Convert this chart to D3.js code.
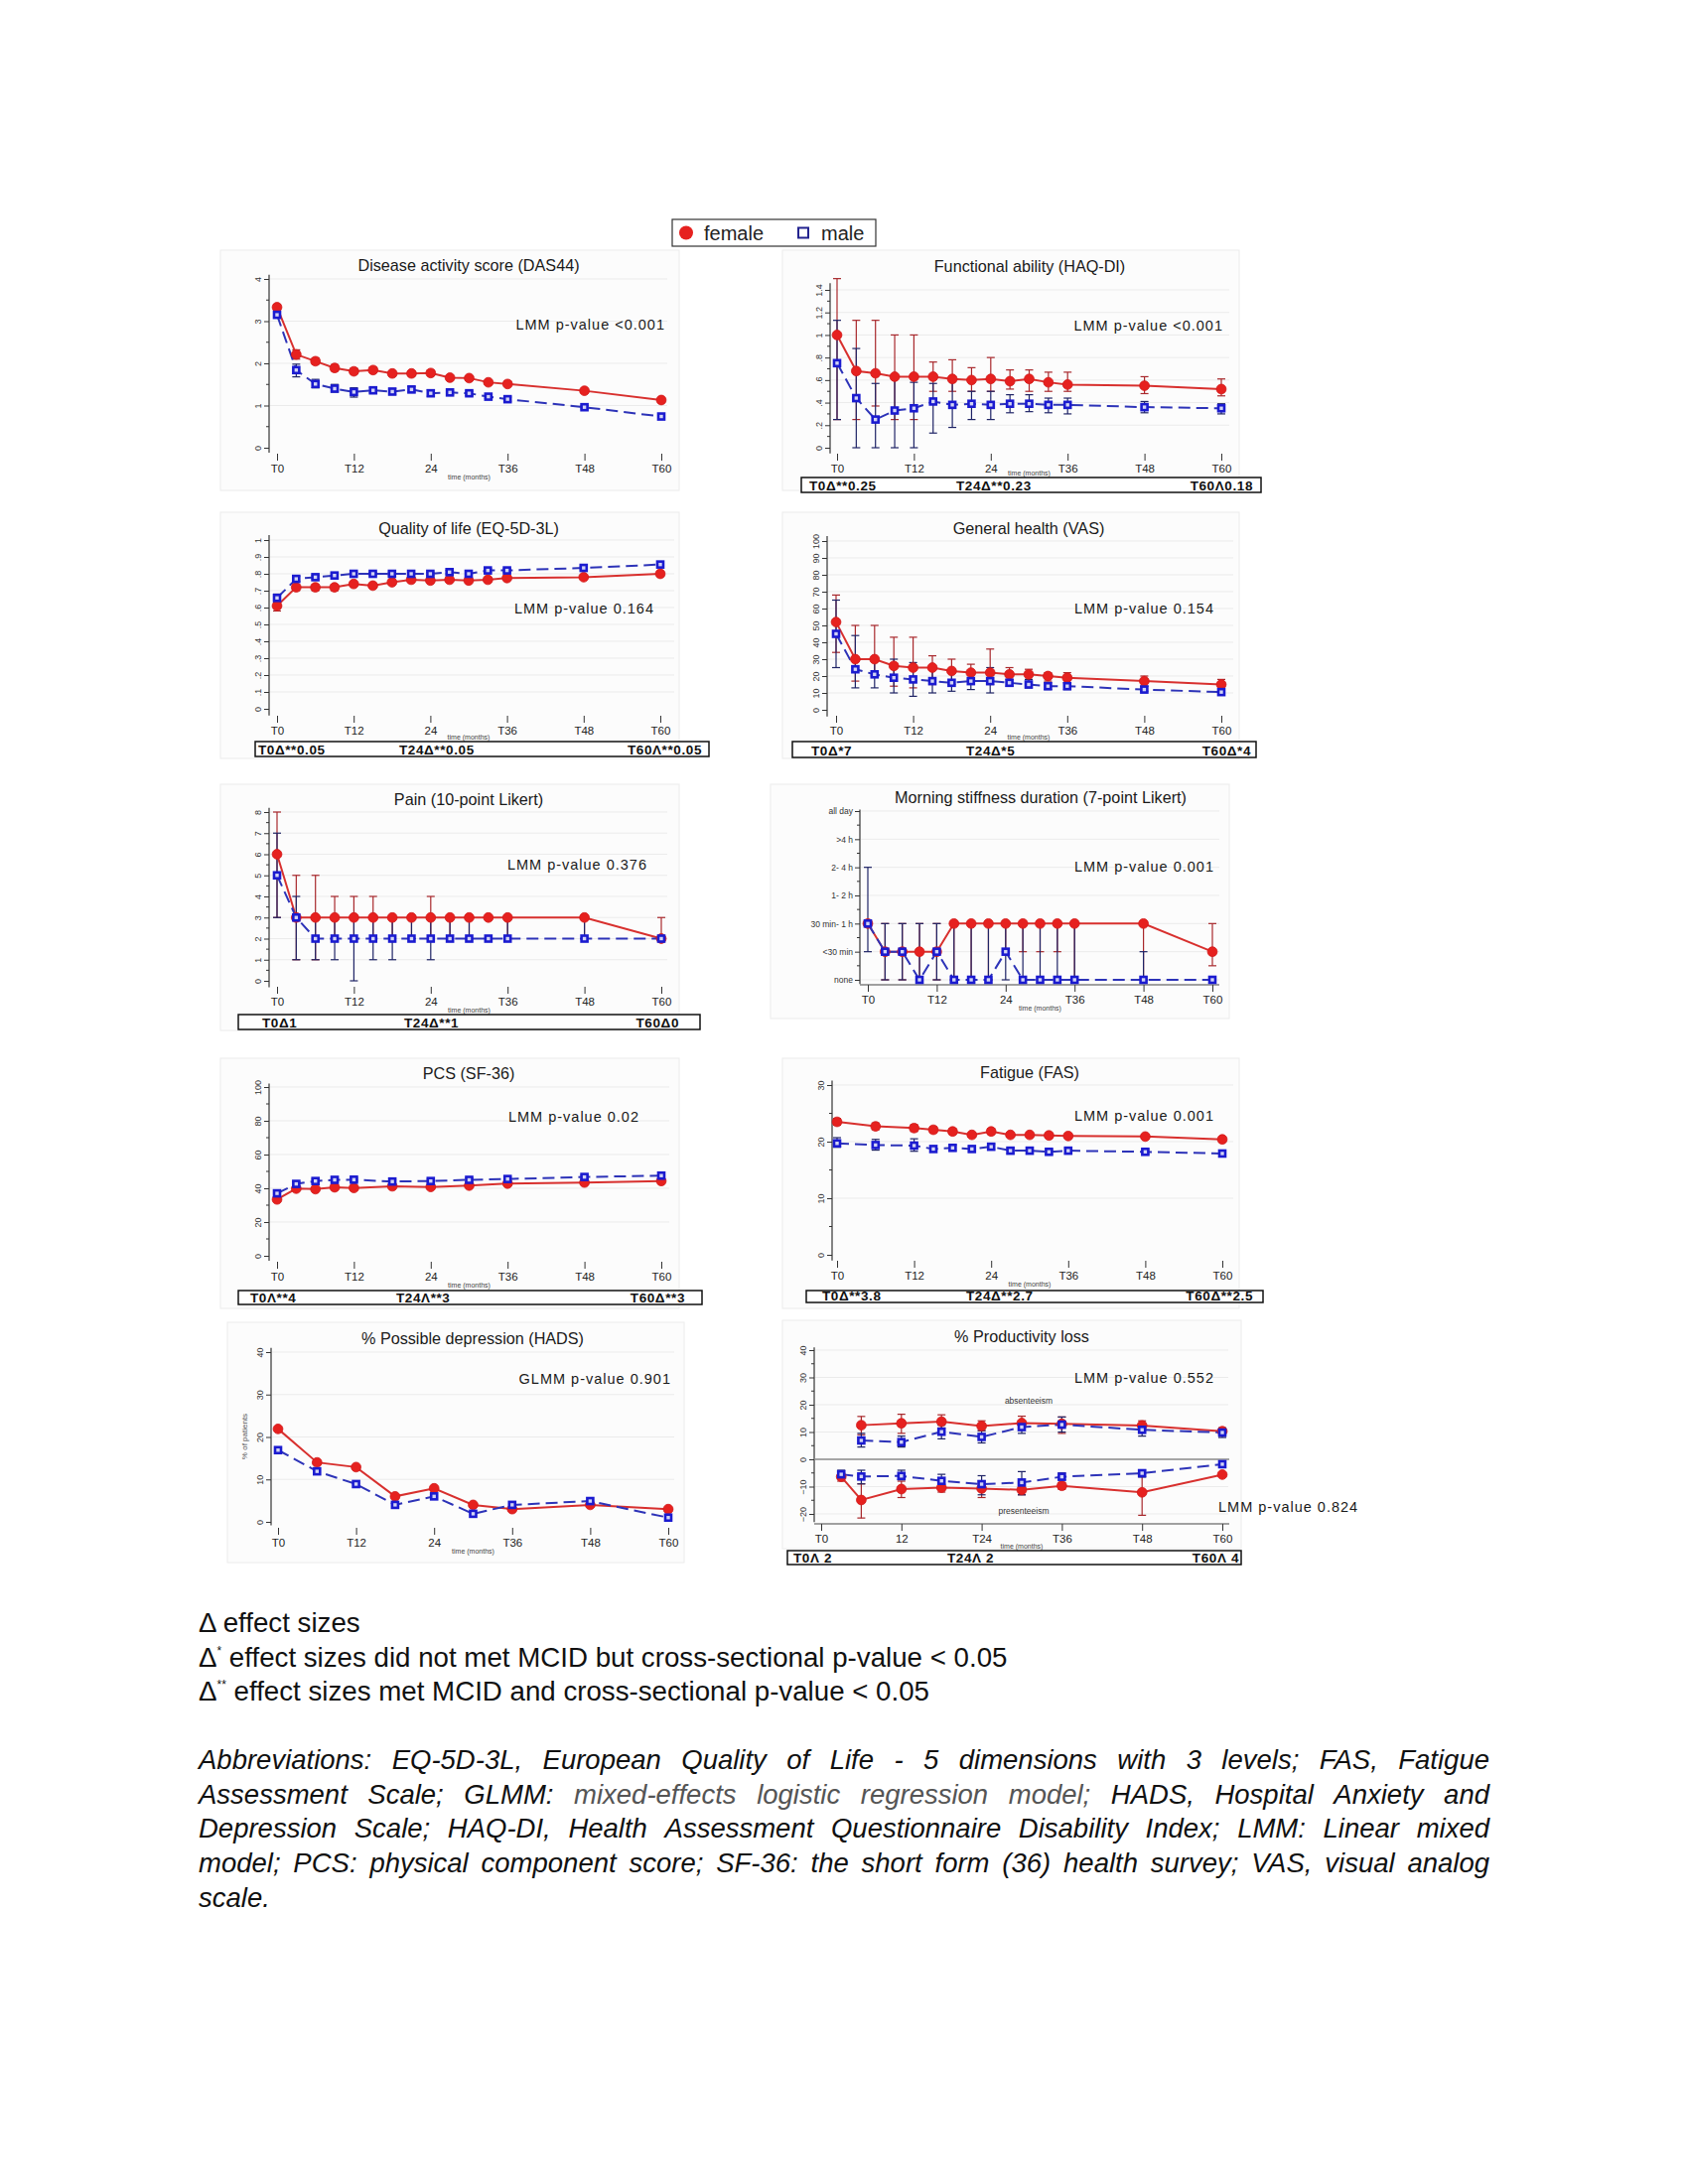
<!DOCTYPE html>
<html><head><meta charset="utf-8">
<script src="https://cdn.jsdelivr.net/npm/d3@7"></script>
<style>
body{margin:0;background:#fff;}
svg{display:block;}
text{font-family:"Liberation Sans", Arial, Helvetica, sans-serif;}
</style>
</head><body>
<svg id="chart" width="1700" height="2200"></svg>
<script>
// ---------------- DATA ----------------
const m15 = [0,3,6,9,12,15,18,21,24,27,30,33,36,48,60];
const m11 = [0,3,6,9,12,18,24,30,36,48,60];
const m13 = [0,6,12,15,18,21,24,27,30,33,36,48,60];
const m9 = [0,6,12,18,24,30,36,48,60];
const absMonths = [6,12,18,24,30,36,48,60];
const presMonths = [3,6,12,18,24,30,36,48,60];
const xTickMonths = [0,12,24,36,48,60];
const xTickLabels = ["T0","T12","24","T36","T48","T60"];
const xTickLabelsProd = ["T0","12","T24","T36","T48","T60"];

const dasF   = [3.33,2.21,2.05,1.89,1.81,1.84,1.76,1.76,1.77,1.66,1.65,1.55,1.51,1.35,1.13];
const dasFLo = [3.25,2.10,1.98,1.82,1.75,1.78,1.70,1.70,1.71,1.62,1.60,1.51,1.47,1.31,1.09];
const dasFHi = [3.40,2.32,2.13,1.97,1.88,1.90,1.81,1.81,1.83,1.71,1.70,1.60,1.55,1.39,1.16];
const dasM   = [3.15,1.84,1.51,1.40,1.32,1.36,1.33,1.38,1.29,1.31,1.29,1.21,1.15,0.96,0.74];
const dasMLo = [3.08,1.68,1.42,1.32,1.20,1.30,1.26,1.32,1.22,1.26,1.24,1.17,1.10,0.92,0.70];
const dasMHi = [3.22,1.98,1.62,1.50,1.42,1.42,1.40,1.45,1.37,1.35,1.34,1.26,1.20,1.00,0.78];

const haqF   = [1.00,0.68,0.66,0.63,0.63,0.63,0.61,0.60,0.61,0.59,0.61,0.58,0.56,0.55,0.52];
const haqFLo = [0.25,0.25,0.37,0.25,0.25,0.50,0.50,0.50,0.50,0.52,0.50,0.50,0.50,0.48,0.46];
const haqFHi = [1.50,1.13,1.13,1.00,1.00,0.76,0.78,0.71,0.80,0.69,0.69,0.67,0.67,0.63,0.61];
const haqM   = [0.75,0.44,0.25,0.33,0.35,0.41,0.38,0.39,0.38,0.39,0.39,0.38,0.38,0.36,0.35];
const haqMLo = [0.25,0.00,0.00,0.00,0.00,0.13,0.18,0.25,0.25,0.31,0.32,0.31,0.30,0.31,0.30];
const haqMHi = [1.13,0.88,0.57,0.63,0.58,0.57,0.63,0.50,0.50,0.47,0.47,0.44,0.44,0.41,0.39];

const eqF   = [0.61,0.72,0.72,0.72,0.74,0.73,0.75,0.765,0.76,0.765,0.76,0.765,0.775,0.78,0.80];
const eqFLo = [0.58,0.70,0.70,0.70,0.73,0.72,0.74,0.755,0.75,0.755,0.75,0.755,0.765,0.77,0.79];
const eqFHi = [0.63,0.735,0.735,0.735,0.75,0.745,0.76,0.775,0.77,0.775,0.77,0.775,0.785,0.79,0.81];
const eqM   = [0.657,0.77,0.78,0.79,0.80,0.80,0.80,0.80,0.80,0.81,0.80,0.82,0.82,0.835,0.855];
const eqMLo = [0.63,0.755,0.77,0.78,0.79,0.79,0.79,0.79,0.79,0.80,0.79,0.81,0.81,0.825,0.845];
const eqMHi = [0.68,0.785,0.79,0.80,0.81,0.81,0.81,0.81,0.81,0.82,0.81,0.83,0.83,0.845,0.865];

const vasF   = [52,30,30,26,25,25,23,22,22,21,21,20,19,17,15];
const vasFLo = [34,17,20,14,13,15,15,18,15,18,18,17,16,14,12];
const vasFHi = [68,50,50,43,43,32,30,27,36,25,24,22,22,20,18];
const vasM   = [45,24,21,19,18,17,16,17,17,16,15,14,14,12,10.5];
const vasMLo = [25,13,13,10,8,10,11,12,10,14,13,12,12,11,9];
const vasMHi = [65,44,30,30,28,25,23,22,25,20,18,16,16,14,12];

const painF   = [6,3,3,3,3,3,3,3,3,3,3,3,3,3,2];
const painFLo = [3,1,1,2,2,2,2,2,2,2,2,3,2,2,2];
const painFHi = [8,5,5,4,4,4,3,3,4,3,3,3,3,3,3];
const painM   = [5,3,2,2,2,2,2,2,2,2,2,2,2,2,2];
const painMLo = [3,1,1,1,0,1,1,2,1,2,2,2,2,2,2];
const painMHi = [7,4,3,3,3,3,3,3,3,3,3,2,3,3,2];

const stiffCats = ["none","<30 min","30 min- 1 h","1- 2 h","2- 4 h",">4 h","all day"];
const stiffF   = [2,1,1,1,1,2,2,2,2,2,2,2,2,2,1];
const stiffFLo = [2,0,0,0,0,0,0,0,1,1,1,1,0,0,0.5];
const stiffFHi = [2,2,2,2,2,2,2,2,2,2,2,2,2,2,2];
const stiffM   = [2,1,1,0,1,0,0,0,1,0,0,0,0,0,0];
const stiffMLo = [1,0,0,0,0,0,0,0,0,0,0,0,0,0,0];
const stiffMHi = [4,2,2,2,2,2,2,2,2,2,2,2,2,1,0];

const pcsF   = [33.4,39.8,39.5,40.6,40.2,41.2,40.8,41.6,42.8,43.4,44.3];
const pcsFLo = [32.2,38.8,38.5,39.6,39.2,40.2,39.8,40.6,41.8,42.4,43.3];
const pcsFHi = [34.6,40.8,40.5,41.6,41.2,42.2,41.8,42.6,43.8,44.4,45.3];
const pcsM   = [37.0,42.6,44.3,45.0,45.1,44.0,44.3,45.0,45.5,46.7,47.5];
const pcsMLo = [35.6,41.4,43.2,43.9,44.0,42.9,43.2,43.9,44.4,45.6,46.4];
const pcsMHi = [38.4,43.8,45.4,46.1,46.2,45.1,45.4,46.1,46.6,47.8,48.6];

const fasF   = [23.5,22.7,22.4,22.1,21.8,21.2,21.8,21.2,21.2,21.1,21.0,20.9,20.4];
const fasFLo = [22.9,22.1,21.8,21.6,21.3,20.8,21.3,20.8,20.8,20.7,20.6,20.5,20.0];
const fasFHi = [24.1,23.3,23.0,22.6,22.3,21.6,22.3,21.6,21.6,21.5,21.4,21.3,20.8];
const fasM   = [19.7,19.4,19.3,18.7,18.9,18.7,19.1,18.4,18.4,18.2,18.4,18.2,17.9];
const fasMLo = [19.0,18.5,18.3,18.2,18.4,18.2,18.6,17.9,17.9,17.8,17.9,17.8,17.5];
const fasMHi = [20.7,20.4,20.5,19.2,19.4,19.2,19.6,18.9,18.9,18.6,18.9,18.6,18.3];

const depF = [21.9,14.0,12.9,6.0,7.9,4.0,3.0,4.0,3.0];
const depM = [16.9,11.9,8.9,4.0,6.0,1.9,4.0,4.9,1.0];

const absF   = [12.5,13.2,13.8,12.2,13.3,13.0,12.4,10.3];
const absFLo = [9.0,9.5,11.5,10.5,11.5,9.5,10.5,8.5];
const absFHi = [15.7,16.5,16.3,14.1,15.8,15.5,14.1,11.5];
const absM   = [6.9,6.3,10.1,8.2,11.8,12.7,10.8,9.8];
const absMLo = [4.5,4.5,7.5,6.0,9.5,10.0,8.5,8.0];
const absMHi = [9.5,8.5,12.5,10.5,13.5,15.5,12.5,11.5];
const presF   = [-6.4,-14.9,-10.9,-10.4,-10.7,-11.2,-9.7,-12.1,-5.6];
const presFLo = [-8,-21.5,-14,-12,-14,-13,-11,-20.5,-6];
const presFHi = [-5,-9,-8,-9,-8,-9,-8.5,-5,-5];
const presM   = [-5.5,-6.3,-6.1,-7.9,-9.1,-8.5,-6.4,-5.1,-1.8];
const presMLo = [-7,-9,-7.5,-10,-13,-13,-7.5,-6.5,-2.5];
const presMHi = [-4,-4,-4,-5.5,-6,-4.5,-5,-4,-1.5];

const deltaHAQ  = ["T0Δ**0.25","T24Δ**0.23","T60Λ0.18"];
const deltaEQ   = ["T0Δ**0.05","T24Δ**0.05","T60Λ**0.05"];
const deltaVAS  = ["T0Δ*7","T24Δ*5","T60Δ*4"];
const deltaPain = ["T0Δ1","T24Δ**1","T60Δ0"];
const deltaPCS  = ["T0Λ**4","T24Λ**3","T60Δ**3"];
const deltaFAS  = ["T0Δ**3.8","T24Δ**2.7","T60Δ**2.5"];
const deltaProd = ["T0Λ 2","T24Λ 2","T60Λ 4"];

// ---------------- STYLE ----------------
const RED = "#e6211f", RED_LINE = "#d8302e", RED_ERR = "#a8282c";
const BLUE = "#1b1bd0", BLUE_LINE = "#2d33b8", BLUE_ERR = "#1f2466";

const svg = d3.select("#chart");

function series(xs, ys, lo, hi, sex){ return {xs, ys, lo, hi, sex}; }

function drawPanel(c){
  const g = svg.append("g");
  g.append("rect").attr("x",c.bg[0]).attr("y",c.bg[1])
    .attr("width",c.bg[2]-c.bg[0]).attr("height",c.bg[3]-c.bg[1])
    .attr("fill","#fcfcfc").attr("stroke","#ececec").attr("stroke-width",1);
  const x = d3.scaleLinear().domain([0,60]).range([c.xL,c.xR]);
  const y = d3.scaleLinear().domain(c.yDom).range([c.yB,c.yT]);

  // grid
  g.append("g").selectAll("line").data(c.grid).join("line")
    .attr("x1",c.axisX+1).attr("x2",c.gridR)
    .attr("y1",d=>y(d)).attr("y2",d=>y(d))
    .attr("stroke","#ebebeb").attr("stroke-width",1);

  // y axis
  const ya = d3.axisLeft(y).tickValues(c.yTicks).tickSize(5).tickSizeOuter(0)
    .tickFormat(c.yFmt);
  const yg = g.append("g").attr("transform",`translate(${c.axisX},0)`).call(ya);
  yg.select(".domain").remove();
  yg.selectAll("line").attr("stroke","#333");
  if (c.cats){
    yg.selectAll("text").attr("font-size",8.5).attr("fill","#333").attr("x",-7)
      .attr("font-family","Liberation Sans, Arial, sans-serif");
  } else {
    yg.selectAll("text").attr("transform","rotate(-90)").attr("x",0).attr("y",-8)
      .attr("dy",0).attr("text-anchor","middle").attr("font-size",9).attr("fill","#333")
      .attr("font-family","Liberation Sans, Arial, sans-serif");
  }
  g.append("line").attr("x1",c.axisX).attr("x2",c.axisX)
    .attr("y1",y(c.yExt[0])).attr("y2",y(c.yExt[1])).attr("stroke","#333").attr("stroke-width",1.2);
  if (c.minor){
    g.append("g").selectAll("line").data(c.minor).join("line")
      .attr("x1",c.axisX-3).attr("x2",c.axisX).attr("y1",d=>y(d)).attr("y2",d=>y(d))
      .attr("stroke","#333");
  }
  if (c.zeroLine){
    g.append("line").attr("x1",c.axisX).attr("x2",c.zeroLine).attr("y1",y(0)).attr("y2",y(0))
      .attr("stroke","#8a8a8a").attr("stroke-width",1.6);
  }

  // x axis
  const labels = c.xLabels || xTickLabels;
  const xa = d3.axisBottom(x).tickValues(xTickMonths).tickSize(7).tickSizeOuter(0)
    .tickFormat((d,i)=>labels[i]);
  const xg = g.append("g").attr("transform",`translate(0,${c.xAxisY})`).call(xa);
  xg.select(".domain").remove();
  xg.selectAll("line").attr("stroke","#333");
  xg.selectAll("text").attr("font-size",11.5).attr("fill","#222").attr("y",11).attr("dy","0.71em")
    .attr("font-family","Liberation Sans, Arial, sans-serif");
  if (c.xLine){
    g.append("line").attr("x1",c.axisX).attr("x2",c.xLine).attr("y1",c.xAxisY).attr("y2",c.xAxisY)
      .attr("stroke","#444").attr("stroke-width",1);
  }
  const tmY = c.delta ? Math.min(c.xAxisY+26, c.delta.box[1]-2) : c.xAxisY+26;
  g.append("text").attr("x",(c.xL+c.xR)/2).attr("y",tmY).attr("text-anchor","middle")
    .attr("font-size",7).attr("fill","#444").text("time (months)");

  // title
  g.append("text").attr("x",c.titleX).attr("y",c.titleY).attr("text-anchor","middle")
    .attr("font-size",16.2).attr("fill","#1a1a1a").text(c.title);
  // p texts
  (c.pTexts||[]).forEach(p=>{
    g.append("text").attr("x",p[1]).attr("y",p[2]).attr("text-anchor",p[3]||"end")
      .attr("font-size",14.5).attr("letter-spacing",1).attr("fill","#1a1a1a").text(p[0]);
  });
  (c.notes||[]).forEach(p=>{
    g.append("text").attr("x",p[1]).attr("y",p[2]).attr("text-anchor","middle")
      .attr("font-size",8.5).attr("fill","#333").text(p[0]);
  });
  if (c.ylab){
    g.append("text").attr("transform",`translate(${c.ylab[1]},${c.ylab[2]}) rotate(-90)`)
      .attr("text-anchor","middle").attr("font-size",8).attr("fill","#555").text(c.ylab[0]);
  }

  // error bars
  c.series.forEach(s=>{
    if (!s.lo) return;
    const col = s.sex==="f" ? RED_ERR : BLUE_ERR;
    const eg = g.append("g").attr("stroke",col).attr("stroke-width",1.2);
    s.xs.forEach((m,i)=>{
      if (s.lo[i]===s.hi[i]) return;
      const xx = x(m);
      eg.append("line").attr("x1",xx).attr("x2",xx).attr("y1",y(s.lo[i])).attr("y2",y(s.hi[i]));
      eg.append("line").attr("x1",xx-4).attr("x2",xx+4).attr("y1",y(s.lo[i])).attr("y2",y(s.lo[i]));
      eg.append("line").attr("x1",xx-4).attr("x2",xx+4).attr("y1",y(s.hi[i])).attr("y2",y(s.hi[i]));
    });
  });
  // lines + markers, female first then male
  ["f","m"].forEach(sex=>{
    c.series.filter(s=>s.sex===sex).forEach(s=>{
      const pts = s.xs.map((m,i)=>[m,s.ys[i]]);
      const line = d3.line().x(d=>x(d[0])).y(d=>y(d[1]));
      g.append("path").attr("d",line(pts)).attr("fill","none")
        .attr("stroke", sex==="f"?RED_LINE:BLUE_LINE).attr("stroke-width",2)
        .attr("stroke-dasharray", sex==="f"?null:"12,6");
    });
  });
  ["f","m"].forEach(sex=>{
    c.series.filter(s=>s.sex===sex).forEach(s=>{
      const pts = s.xs.map((m,i)=>[m,s.ys[i]]);
      if (sex==="f"){
        g.append("g").selectAll("circle").data(pts).join("circle")
          .attr("cx",d=>x(d[0])).attr("cy",d=>y(d[1])).attr("r",4.9)
          .attr("fill",RED).attr("stroke","#d21a1a").attr("stroke-width",0.8);
      } else {
        g.append("g").selectAll("rect").data(pts).join("rect")
          .attr("x",d=>x(d[0])-3).attr("y",d=>y(d[1])-3).attr("width",6).attr("height",6)
          .attr("fill","#d2d4f4").attr("stroke",BLUE).attr("stroke-width",2.6);
      }
    });
  });

  // delta box
  if (c.delta){
    const d = c.delta;
    g.append("rect").attr("x",d.box[0]).attr("y",d.box[1]).attr("width",d.box[2]-d.box[0])
      .attr("height",d.box[3]-d.box[1]).attr("fill","#fff").attr("stroke","#111").attr("stroke-width",1.5);
    d.texts.forEach((t,i)=>{
      g.append("text").attr("x",d.pos[i]).attr("y",d.box[3]-2.5)
        .attr("text-anchor", i===2?"end":"start")
        .attr("font-size",13.5).attr("font-weight","bold").attr("letter-spacing",0.6)
        .attr("fill","#111").text(t);
    });
  }
}

const r = (a,b,s)=>d3.range(a,b+1e-9,s).map(v=>+v.toFixed(4));
const fmtDec = d => d===0 ? "0" : (d===1 ? "1" : (Number.isInteger(d)? String(d) : String(+d.toFixed(1)).replace(/^0\./,".")));

// 1 DAS44
drawPanel({bg:[222,252,684,494], xL:279, xR:666, yDom:[0,4], yB:451, yT:281, axisX:271,
  yTicks:[0,1,2,3,4], yFmt:d3.format("d"), grid:[1,2,3,4], gridR:672, yExt:[-0.12,4.1],
  minor:[0.5,1.5,2.5,3.5], xAxisY:457,
  title:"Disease activity score (DAS44)", titleX:472, titleY:273,
  pTexts:[["LMM p-value <0.001",670,332]],
  series:[series(m15,dasF,dasFLo,dasFHi,"f"), series(m15,dasM,dasMLo,dasMHi,"m")]});

// 2 HAQ-DI
drawPanel({bg:[788,252,1248,494], xL:843, xR:1230, yDom:[0,1.4], yB:451, yT:292, axisX:836,
  yTicks:r(0,1.4,0.2), yFmt:fmtDec, grid:r(0.2,1.4,0.2), gridR:1238, yExt:[-0.05,1.46],
  minor:r(0.1,1.3,0.2), xAxisY:457,
  title:"Functional ability (HAQ-DI)", titleX:1037, titleY:274,
  pTexts:[["LMM p-value <0.001",1232,333]],
  series:[series(m15,haqF,haqFLo,haqFHi,"f"), series(m15,haqM,haqMLo,haqMHi,"m")],
  delta:{box:[807,481,1270,496], texts:deltaHAQ, pos:[815,963,1262]}});

// 3 EQ-5D
drawPanel({bg:[222,516,684,764], xL:279, xR:665, yDom:[0,1], yB:714, yT:544, axisX:271,
  yTicks:r(0,1,0.1), yFmt:fmtDec, grid:r(0.1,1,0.1), gridR:679, yExt:[-0.04,1.03],
  xAxisY:721,
  title:"Quality of life (EQ-5D-3L)", titleX:472, titleY:538,
  pTexts:[["LMM p-value 0.164",659,618]],
  series:[series(m15,eqF,eqFLo,eqFHi,"f"), series(m15,eqM,eqMLo,eqMHi,"m")],
  delta:{box:[257,747,714,762], texts:deltaEQ, pos:[260,402,707]}});

// 4 VAS
drawPanel({bg:[788,516,1248,764], xL:842, xR:1230, yDom:[0,100], yB:715, yT:545, axisX:833,
  yTicks:r(0,100,10), yFmt:d3.format("d"), grid:r(10,100,10), gridR:1242, yExt:[-4,103],
  xAxisY:721,
  title:"General health (VAS)", titleX:1036, titleY:538,
  pTexts:[["LMM p-value 0.154",1223,618]],
  series:[series(m15,vasF,vasFLo,vasFHi,"f"), series(m15,vasM,vasMLo,vasMHi,"m")],
  delta:{box:[798,747,1265,763], texts:deltaVAS, pos:[817,973,1260]}});

// 5 Pain
drawPanel({bg:[222,790,684,1038], xL:279, xR:666, yDom:[0,8], yB:988, yT:818, axisX:271,
  yTicks:r(0,8,1), yFmt:d3.format("d"), grid:r(1,8,1), gridR:672, yExt:[-0.3,8.2],
  minor:r(0.5,7.5,1), xAxisY:994,
  title:"Pain (10-point Likert)", titleX:472, titleY:811,
  pTexts:[["LMM p-value 0.376",652,876]],
  series:[series(m15,painF,painFLo,painFHi,"f"), series(m15,painM,painMLo,painMHi,"m")],
  delta:{box:[240,1022,705,1037], texts:deltaPain, pos:[264,407,684]}});

// 6 Morning stiffness
drawPanel({bg:[776,790,1238,1026], xL:874, xR:1221, yDom:[0,6], yB:987, yT:817, axisX:866,
  yTicks:r(0,6,1), yFmt:(d)=>stiffCats[d], cats:true, grid:r(0,6,1), gridR:1228, yExt:[-0.15,6.05],
  minor:r(0.5,5.5,1), xAxisY:992, xLine:1228,
  title:"Morning stiffness duration (7-point Likert)", titleX:1048, titleY:809,
  pTexts:[["LMM p-value 0.001",1223,878]],
  series:[series(m15,stiffF,stiffFLo,stiffFHi,"f"), series(m15,stiffM,stiffMLo,stiffMHi,"m")]});

// 7 PCS
drawPanel({bg:[222,1066,684,1318], xL:279, xR:666, yDom:[0,100], yB:1265, yT:1095, axisX:271,
  yTicks:r(0,100,20), yFmt:d3.format("d"), grid:r(20,100,20), gridR:674, yExt:[-3,102],
  minor:r(10,90,20), xAxisY:1271,
  title:"PCS (SF-36)", titleX:472, titleY:1087,
  pTexts:[["LMM p-value 0.02",644,1130]],
  series:[series(m11,pcsF,pcsFLo,pcsFHi,"f"), series(m11,pcsM,pcsMLo,pcsMHi,"m")],
  delta:{box:[240,1300,707,1314], texts:deltaPCS, pos:[252,399,690]}});

// 8 Fatigue
drawPanel({bg:[788,1066,1248,1318], xL:843, xR:1231, yDom:[0,30], yB:1264, yT:1093, axisX:838,
  yTicks:[0,10,20,30], yFmt:d3.format("d"), grid:[10,20,30], gridR:1242, yExt:[-1,30.8],
  minor:[5,15,25], xAxisY:1270,
  title:"Fatigue (FAS)", titleX:1037, titleY:1086,
  pTexts:[["LMM p-value 0.001",1223,1129]],
  series:[series(m13,fasF,fasFLo,fasFHi,"f"), series(m13,fasM,fasMLo,fasMHi,"m")],
  delta:{box:[812,1300,1272,1312], texts:deltaFAS, pos:[828,973,1262]}});

// 9 Depression
drawPanel({bg:[229,1332,689,1574], xL:280, xR:673, yDom:[0,40], yB:1533, yT:1362, axisX:273,
  yTicks:[0,10,20,30,40], yFmt:d3.format("d"), grid:[10,20,30,40], gridR:679, yExt:[-0.8,41],
  xAxisY:1539,
  title:"% Possible depression (HADS)", titleX:476, titleY:1354,
  pTexts:[["GLMM p-value 0.901",676,1394]],
  ylab:["% of patients",249,1447],
  series:[series(m9,depF,null,null,"f"), series(m9,depM,null,null,"m")]});

// 10 Productivity
drawPanel({bg:[788,1330,1250,1560], xL:827, xR:1231, yDom:[-20,40], yB:1525, yT:1360, axisX:820,
  yTicks:[-20,-10,0,10,20,30,40], yFmt:d3.format("d"), grid:[-20,-10,10,20,30,40], gridR:1237,
  yExt:[-23,41], minor:[-15,-5,5,15,25,35], xAxisY:1535, xLine:1238, zeroLine:1238,
  xLabels:xTickLabelsProd,
  title:"% Productivity loss", titleX:1029, titleY:1352,
  pTexts:[["LMM p-value 0.552",1223,1393],["LMM p-value 0.824",1227,1523,"start"]],
  notes:[["absenteeism",1036,1414],["presenteeism",1031,1525]],
  series:[series(absMonths,absF,absFLo,absFHi,"f"), series(absMonths,absM,absMLo,absMHi,"m"),
          series(presMonths,presF,presFLo,presFHi,"f"), series(presMonths,presM,presMLo,presMHi,"m")],
  delta:{box:[793,1562,1250,1576], texts:deltaProd, pos:[799,954,1248]}});

// ---------------- LEGEND ----------------
const lg = svg.append("g");
lg.append("rect").attr("x",677).attr("y",221).attr("width",205).attr("height",27)
  .attr("fill","#fff").attr("stroke","#333").attr("stroke-width",1.2);
lg.append("circle").attr("cx",691).attr("cy",234.5).attr("r",7).attr("fill",RED);
lg.append("text").attr("x",709).attr("y",241.5).attr("font-size",20).attr("fill","#222").text("female");
lg.append("rect").attr("x",804).attr("y",229.5).attr("width",10).attr("height",10)
  .attr("fill","none").attr("stroke","#23238f").attr("stroke-width",2);
lg.append("text").attr("x",827).attr("y",241.5).attr("font-size",20).attr("fill","#222").text("male");

// ---------------- FOOTNOTES ----------------
const fn = svg.append("g").attr("font-size",27.7).attr("fill","#111");
fn.append("text").attr("x",200).attr("y",1644).text("Δ effect sizes");
const t2 = fn.append("text").attr("x",200).attr("y",1679);
t2.append("tspan").text("Δ");
t2.append("tspan").attr("font-size",12).attr("dy",-12).text("*");
t2.append("tspan").attr("dy",12).text(" effect sizes did not met MCID but cross-sectional p-value < 0.05");
const t3 = fn.append("text").attr("x",200).attr("y",1713);
t3.append("tspan").text("Δ");
t3.append("tspan").attr("font-size",12).attr("dy",-12).text("**");
t3.append("tspan").attr("dy",12).text(" effect sizes met MCID and cross-sectional p-value < 0.05");

const abbrevLines = [
  [["Abbreviations: EQ-5D-3L, European Quality of Life - 5 dimensions with 3 levels; FAS, Fatigue",0]],
  [["Assessment Scale; GLMM:",0],["mixed-effects logistic regression model;",1],["HADS, Hospital Anxiety and",0]],
  [["Depression Scale; HAQ-DI, Health Assessment Questionnaire Disability Index; LMM: Linear mixed",0]],
  [["model; PCS: physical component score; SF-36: the short form (36) health survey; VAS, visual analog",0]],
  [["scale.",0]]
];
const abbrevY = [1782,1817,1851,1886,1921];
const ab = svg.append("g").attr("font-size",27.5).attr("font-style","italic");
abbrevLines.forEach((segs,li)=>{
  const words = [];
  segs.forEach(s=>s[0].split(" ").forEach(w=>words.push({w, gray:s[1]})));
  const nodes = words.map(o=>ab.append("text").attr("y",abbrevY[li])
      .attr("fill", o.gray ? "#555" : "#111").text(o.w));
  const widths = nodes.map(n=>n.node().getComputedTextLength());
  const total = d3.sum(widths);
  const last = li===abbrevLines.length-1;
  const gap = last || words.length<2 ? 7 : (1300-total)/(words.length-1);
  let xx = 200;
  nodes.forEach((n,i)=>{ n.attr("x",xx); xx += widths[i]+gap; });
});
</script>
</body></html>
